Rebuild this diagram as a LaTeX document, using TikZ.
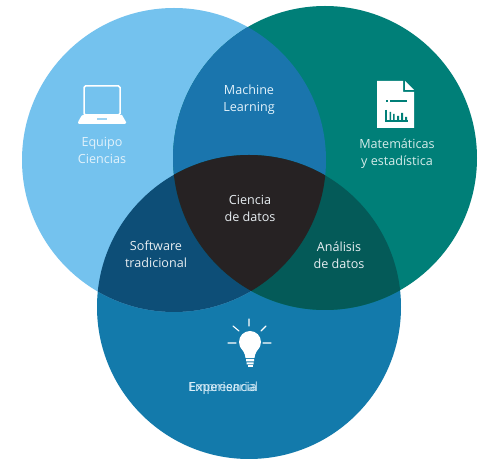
\documentclass[tikz,border=0pt]{standalone}
\usepackage{fontspec}
\setmainfont{Open Sans}
\definecolor{cL}{HTML}{74C2EE}
\definecolor{cT}{HTML}{007F78}
\definecolor{cB}{HTML}{137AAB}
\definecolor{cLT}{HTML}{1A75AD}
\definecolor{cLB}{HTML}{0D4E77}
\definecolor{cTB}{HTML}{045A58}
\definecolor{cC}{HTML}{262223}
\definecolor{txtL}{HTML}{E2F2FB}
\definecolor{txtT}{HTML}{D5ECEA}
\definecolor{txtD}{HTML}{E8EEF2}
\tikzset{
  lbl/.style={align=center,font=\fontsize{12.6}{17}\selectfont,inner sep=0pt},
  iconline/.style={draw=white,line width=1.1pt,line cap=round}
}
\def\cL{(174,160) circle [radius=152]}
\def\cT{(325,158) circle [radius=152]}
\def\cB{(249,307) circle [radius=152]}
\begin{document}
\begin{tikzpicture}[x=1pt,y=-1pt]
\useasboundingbox (0,0) rectangle (483,462);
\fill[white] (0,0) rectangle (483,462);
\fill[cB] \cB;
\fill[cL] \cL;
\fill[cT] \cT;
\begin{scope}\clip \cL; \fill[cLT] \cT; \fill[cLB] \cB; \end{scope}
\begin{scope}\clip \cT; \fill[cTB] \cB; \end{scope}
\begin{scope}\clip \cL; \clip \cT; \fill[cC] \cB; \end{scope}
% laptop
\draw[white,line width=1.5pt,rounded corners=1.5pt] (84,86) rectangle (120,115);
\fill[white] (82,115) -- (122,115) -- (126,122) [rounded corners=1pt] -- (126,124) -- (78,124) -- (78,122) -- cycle;
\fill[cL!70] (97,118.5) rectangle (107,120.5);
% document
\fill[white] (377,81) -- (403,81) -- (403,92) -- (414,92) -- (414,128) -- (377,128) -- cycle;
\fill[white] (405,81) -- (414,90) -- (405,90) -- cycle;
\draw[cT,line width=1.3pt] (390,101) -- (407,101);
\fill[cT] (386,100.2) rectangle (388,101.8);
\draw[cT,line width=1.2pt] (386,110) -- (386,121) -- (408,121);
\fill[cT] (389.5,112) rectangle (391,121) (393,114) rectangle (394.5,121) (397,116) rectangle (399,121) (401,113) rectangle (403,121) (405,117) rectangle (407,121);
% bulb
\fill[white] (250,342) circle [radius=11];
\fill[white] (240.5,347) .. controls (243,351) and (245,353) .. (245.5,358) -- (254.5,358) .. controls (255,353) and (257,351) .. (259.5,347) -- cycle;
\fill[white] (246,359) rectangle (254,361.5) (246.5,362.5) rectangle (253.5,364.5);
\fill[white] (247.5,365) rectangle (252.5,367);
\draw[iconline] (249,319) -- (249,326) (228,343) -- (236,343) (263,343) -- (271,343) (233,326) -- (239,331) (266,326) -- (261,331);
% labels
\node[lbl,text=txtL] (equipo) at (102,150) {Equipo\\Ciencias};
\node[lbl,text=txtL] (ml) at (249,100) {Machine\\Learning};
\node[lbl,text=txtT] (mate) at (397,154) {Matemáticas\\y estadística};
\node[lbl,text=txtD] (cd) at (250,208) {Ciencia\\de datos};
\node[lbl,text=txtD] (sw) at (156,254) {Software\\tradicional};
\node[lbl,text=txtD] (an) at (339,255) {Análisis\\de datos};
\node[lbl,text=txtL] (exp) at (223,388) {Experiencia};
\node[lbl,text=txtL,opacity=.8] (emp) at (223,388) {Empresarial};
\end{tikzpicture}
\end{document}
